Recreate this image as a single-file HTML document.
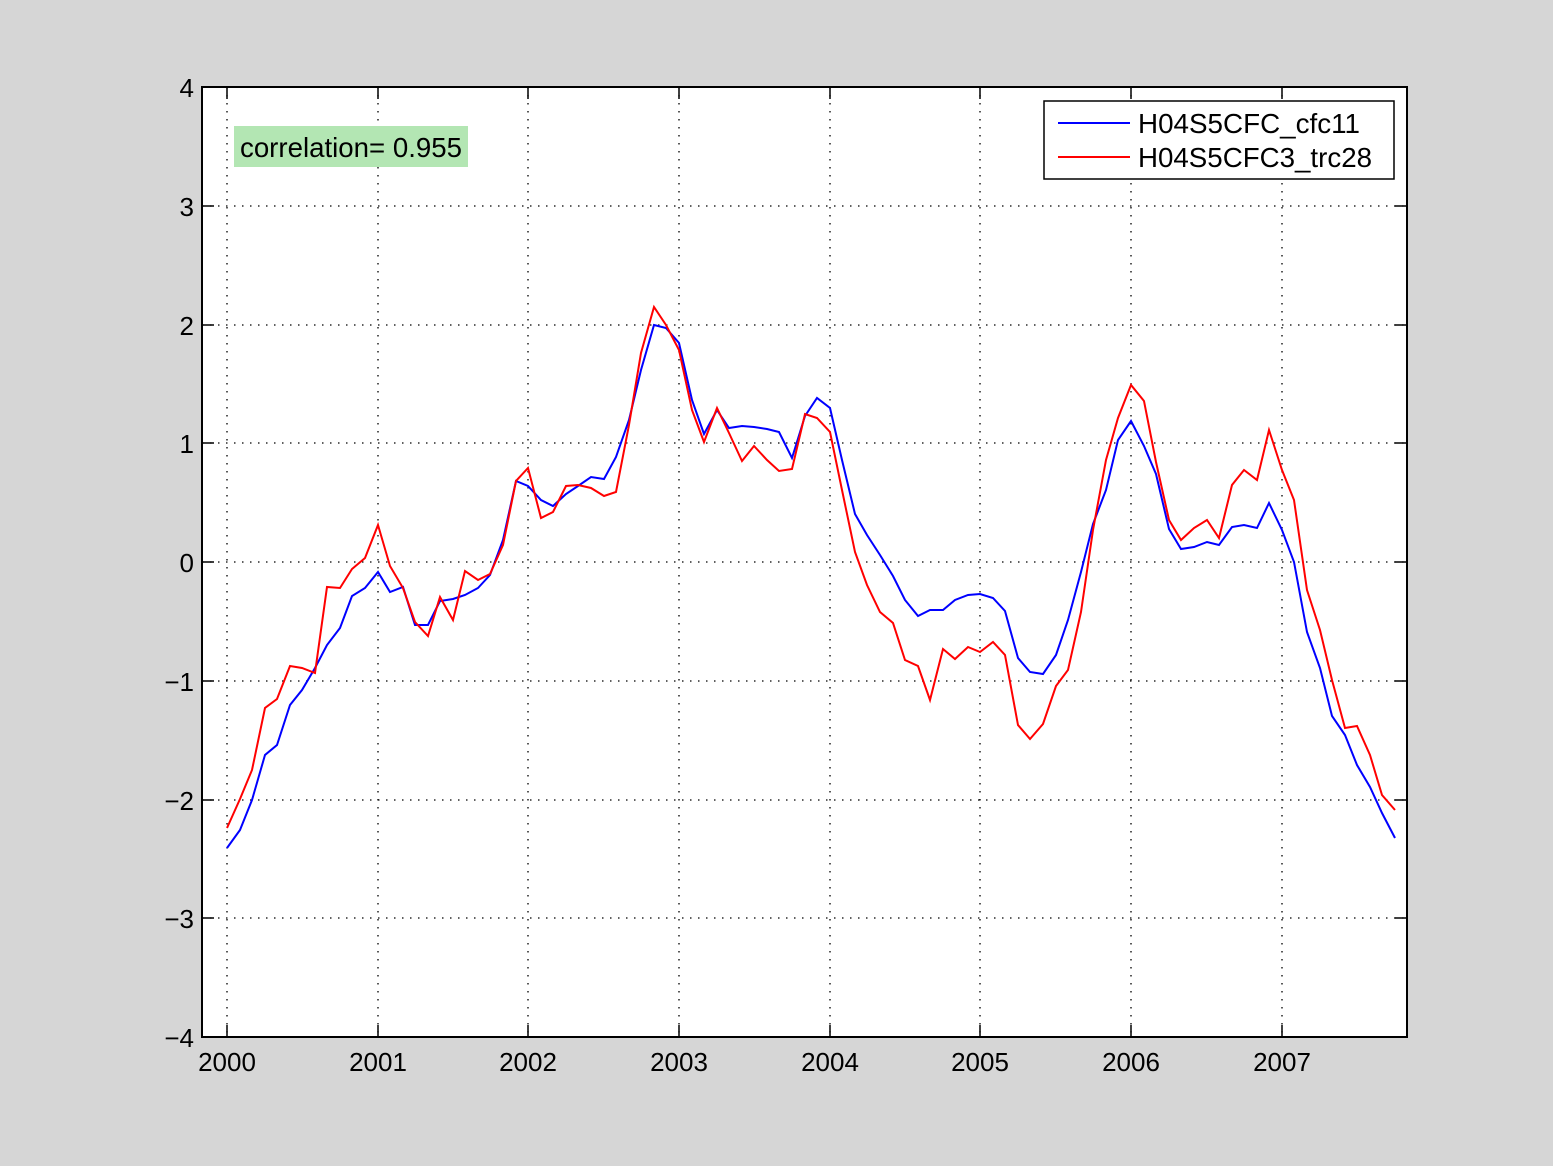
<!DOCTYPE html>
<html><head><meta charset="utf-8"><style>
html,body{margin:0;padding:0;background:#d6d6d6;}
svg{display:block;}
text{font-family:"Liberation Sans",sans-serif;fill:#000;}
</style></head><body>
<svg width="1553" height="1166" viewBox="0 0 1553 1166" xmlns="http://www.w3.org/2000/svg">
<rect x="0" y="0" width="1553" height="1166" fill="#d6d6d6"/>
<rect x="202" y="87" width="1205" height="950" fill="#fff"/>
<g stroke="#000" stroke-width="1.3" stroke-dasharray="1.5,6.5" fill="none">
<line x1="227" y1="87" x2="227" y2="1037"/><line x1="378" y1="87" x2="378" y2="1037"/>
<line x1="528" y1="87" x2="528" y2="1037"/><line x1="679" y1="87" x2="679" y2="1037"/>
<line x1="830" y1="87" x2="830" y2="1037"/><line x1="980" y1="87" x2="980" y2="1037"/>
<line x1="1131" y1="87" x2="1131" y2="1037"/><line x1="1282" y1="87" x2="1282" y2="1037"/>
<line x1="202" y1="206" x2="1407" y2="206"/><line x1="202" y1="325" x2="1407" y2="325"/>
<line x1="202" y1="443" x2="1407" y2="443"/><line x1="202" y1="562" x2="1407" y2="562"/>
<line x1="202" y1="681" x2="1407" y2="681"/><line x1="202" y1="800" x2="1407" y2="800"/>
<line x1="202" y1="918" x2="1407" y2="918"/>
</g>
<g stroke="#000" stroke-width="1.5">
<path d="M227,87v12M378,87v12M528,87v12M679,87v12M830,87v12M980,87v12M1131,87v12M1282,87v12
M227,1037v-12M378,1037v-12M528,1037v-12M679,1037v-12M830,1037v-12M980,1037v-12M1131,1037v-12M1282,1037v-12
M202,206h12M202,325h12M202,443h12M202,562h12M202,681h12M202,800h12M202,918h12
M1407,206h-12M1407,325h-12M1407,443h-12M1407,562h-12M1407,681h-12M1407,800h-12M1407,918h-12"/>
</g>
<rect x="202" y="87" width="1205" height="950" fill="none" stroke="#000" stroke-width="2"/>
<g font-size="26" text-anchor="end">
<text x="194" y="97">4</text><text x="194" y="216">3</text><text x="194" y="335">2</text>
<text x="194" y="453">1</text><text x="194" y="572">0</text><text x="194" y="691">−1</text>
<text x="194" y="810">−2</text><text x="194" y="928">−3</text><text x="194" y="1047">−4</text>
</g>
<g font-size="26" text-anchor="middle">
<text x="227" y="1071">2000</text><text x="378" y="1071">2001</text><text x="528" y="1071">2002</text>
<text x="679" y="1071">2003</text><text x="830" y="1071">2004</text><text x="980" y="1071">2005</text>
<text x="1131" y="1071">2006</text><text x="1282" y="1071">2007</text>
</g>
<polyline fill="none" stroke="#0000ff" stroke-width="2" points="227,848 240,830 252,800 265,755 277,745 290,705 302,690 315,668 327,645 340,628 352,596 365,588 378,572 390,592 403,587 415,625 428,625 440,601 453,599 465,595 478,588 490,575 503,540 516,481 528,486 541,500 553,506 566,494 578,486 591,477 604,479 616,457 629,420 641,370 654,325 666,328 679,343 692,400 704,434 717,410 729,428 742,426 754,427 767,429 779,432 792,458 805,416 817,398 830,408 842,460 855,514 867,535 880,555 893,576 905,600 918,616 930,610 943,610 955,600 968,595 980,594 993,598 1005,611 1018,658 1030,672 1043,674 1056,655 1068,620 1081,572 1093,524 1106,490 1118,440 1131,421 1144,446 1156,474 1169,529 1181,549 1194,547 1207,542 1219,545 1232,527 1244,525 1257,528 1269,503 1282,530 1294,562 1307,632 1320,668 1332,716 1345,735 1357,765 1370,787 1382,813 1395,838"/>
<polyline fill="none" stroke="#ff0000" stroke-width="2" points="227,828 240,799 252,770 265,708 277,699 290,666 302,668 315,673 327,587 340,588 352,569 365,558 378,525 390,566 403,588 415,622 428,636 440,597 453,620 465,571 478,580 490,574 503,545 516,481 528,468 541,518 553,512 566,486 578,485 591,488 604,496 616,492 629,425 641,353 654,307 666,325 679,350 692,410 704,442 717,408 729,433 742,461 754,446 767,460 779,471 792,469 805,414 817,418 830,432 842,490 855,552 867,585 880,612 893,623 905,660 918,666 930,700 943,649 955,659 968,647 980,652 993,642 1005,655 1018,725 1030,739 1043,724 1056,686 1068,670 1081,612 1093,530 1106,460 1118,418 1131,385 1144,401 1156,462 1169,520 1181,540 1194,528 1207,520 1219,538 1232,485 1244,470 1257,480 1269,430 1282,470 1294,500 1307,590 1320,630 1332,680 1345,728 1357,726 1370,755 1382,795 1395,810"/>
<rect x="234" y="126" width="234" height="41" fill="#b3e6b3"/>
<text x="240" y="157" font-size="27.5" textLength="222" lengthAdjust="spacingAndGlyphs">correlation= 0.955</text>
<rect x="1044" y="101" width="350" height="78" fill="#fff" stroke="#000" stroke-width="1.5"/>
<line x1="1058" y1="123" x2="1130" y2="123" stroke="#0000ff" stroke-width="2"/>
<line x1="1058" y1="157" x2="1130" y2="157" stroke="#ff0000" stroke-width="2"/>
<text x="1138" y="133" font-size="27.5" textLength="222" lengthAdjust="spacingAndGlyphs">H04S5CFC_cfc11</text>
<text x="1138" y="167" font-size="27.5" textLength="234" lengthAdjust="spacingAndGlyphs">H04S5CFC3_trc28</text>
</svg>
</body></html>
